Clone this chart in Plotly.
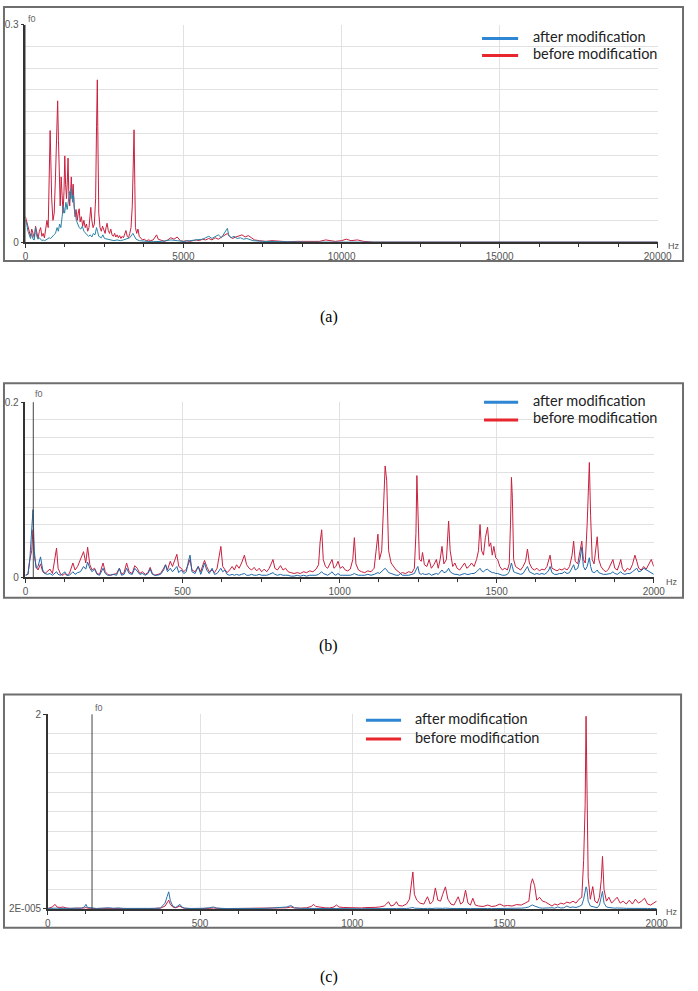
import plotly.graph_objects as go

# ---------------- DATA ----------------
# (a) 0-20000 Hz spectrum
A_BEFORE_HZ = [0, 40, 80, 120, 160, 200, 240, 280, 320, 360, 400, 440, 480, 520, 560, 600, 640, 680, 720, 760,
               781, 800, 830, 870, 910, 950, 990, 1019, 1045, 1070, 1100, 1130, 1160, 1190, 1220, 1245, 1270, 1300,
               1330, 1348, 1370, 1400, 1430, 1450, 1480, 1510, 1540, 1570, 1600, 1640, 1670, 1700, 1730, 1770, 1810,
               1850, 1890, 1930, 1970, 2010, 2040, 2068, 2100, 2140, 2180, 2220, 2250, 2274, 2295, 2320, 2360, 2400,
               2440, 2480, 2520, 2550, 2583, 2620, 2660, 2700, 2740, 2780, 2820, 2860, 2900, 2940, 2980, 3020, 3060,
               3100, 3140, 3180, 3220, 3260, 3300, 3340, 3380, 3410, 3436, 3460, 3480, 3520, 3560, 3600, 3650, 3700,
               3760, 3820, 3900, 3960, 4040, 4150, 4200, 4300, 4400, 4500, 4600, 4700, 4800, 4900, 5000, 5100, 5200,
               5300, 5400, 5500, 5600, 5700, 5800, 5900, 6000, 6100, 6200, 6300, 6389, 6450, 6550, 6650, 6750, 6850,
               6950, 7050, 7150, 7250, 7400, 7600, 7800, 8000, 8300, 8600, 9000, 9300, 9500, 9650, 9800, 10000, 10150,
               10300, 10500, 10700, 11000, 20000]
A_BEFORE_AMP = [0.035, 0.028, 0.02, 0.012, 0.008, 0.018, 0.01, 0.006, 0.022, 0.01, 0.005, 0.015, 0.02, 0.008, 0.012,
                0.006, 0.018, 0.03, 0.02, 0.11, 0.154, 0.12, 0.06, 0.03, 0.04, 0.09, 0.15, 0.195, 0.14, 0.08, 0.05,
                0.09, 0.06, 0.04, 0.07, 0.119, 0.08, 0.06, 0.09, 0.116, 0.07, 0.05, 0.07, 0.09, 0.06, 0.08, 0.05,
                0.035, 0.045, 0.03, 0.04, 0.046, 0.028, 0.035, 0.022, 0.03, 0.02, 0.025, 0.015, 0.02, 0.035, 0.048,
                0.03, 0.02, 0.025, 0.06, 0.16, 0.224, 0.13, 0.04, 0.02, 0.015, 0.022, 0.018, 0.012, 0.02, 0.026,
                0.016, 0.012, 0.018, 0.01, 0.008, 0.012, 0.007, 0.01, 0.006, 0.009, 0.005, 0.008, 0.006, 0.012,
                0.016, 0.008, 0.006, 0.012, 0.02, 0.05, 0.12, 0.155, 0.08, 0.02, 0.012, 0.018, 0.008, 0.005, 0.003,
                0.004, 0.002, 0.003, 0.002, 0.003, 0.01, 0.004, 0.002, 0.001, 0.003, 0.006, 0.004, 0.007, 0.002,
                0.001, 0.002, 0.001, 0.002, 0.003, 0.002, 0.004, 0.003, 0.005, 0.003, 0.006, 0.004, 0.007, 0.01,
                0.012, 0.008, 0.005, 0.007, 0.009, 0.01, 0.007, 0.009, 0.006, 0.003, 0.002, 0.001, 0.002, 0.001,
                0.0005, 0.001, 0.0005, 0.001, 0.003, 0.002, 0.001, 0.002, 0.004, 0.002, 0.003, 0.001, 0.0, 0.0]
A_AFTER_HZ = [0, 40, 80, 120, 160, 200, 240, 280, 320, 360, 400, 440, 480, 520, 560, 600, 650, 700, 750, 800, 850,
              900, 950, 1000, 1040, 1080, 1120, 1160, 1200, 1240, 1280, 1320, 1360, 1400, 1430, 1460, 1490, 1520,
              1550, 1580, 1610, 1650, 1700, 1750, 1800, 1850, 1900, 1950, 2000, 2050, 2100, 2150, 2200, 2250, 2280,
              2320, 2400, 2450, 2500, 2600, 2700, 2800, 2900, 3000, 3100, 3200, 3300, 3400, 3450, 3500, 3600, 3800,
              4000, 4300, 4600, 4800, 5000, 5200, 5400, 5600, 5700, 5800, 5900, 6000, 6100, 6200, 6300, 6389, 6430,
              6500, 6600, 6700, 6800, 6900, 7000, 7200, 7500, 8000, 9000, 20000]
A_AFTER_AMP = [0.03, 0.025, 0.015, 0.008, 0.005, 0.012, 0.004, 0.003, 0.02, 0.008, 0.004, 0.006, 0.003, 0.002,
               0.003, 0.002, 0.003, 0.004, 0.006, 0.005, 0.008, 0.01, 0.012, 0.02, 0.015, 0.025, 0.02, 0.035, 0.05,
               0.04, 0.055, 0.045, 0.06, 0.07, 0.06, 0.075, 0.055, 0.065, 0.045, 0.04, 0.03, 0.025, 0.02, 0.018,
               0.022, 0.015, 0.012, 0.01, 0.008, 0.01, 0.007, 0.012, 0.01, 0.02, 0.015, 0.008, 0.006, 0.01, 0.005,
               0.004, 0.003, 0.002, 0.003, 0.002, 0.003, 0.004, 0.006, 0.012, 0.008, 0.004, 0.002, 0.001, 0.0005,
               0.001, 0.003, 0.002, 0.001, 0.002, 0.003, 0.004, 0.006, 0.008, 0.005, 0.007, 0.01, 0.006, 0.012,
               0.019, 0.01, 0.006, 0.008, 0.005, 0.006, 0.004, 0.005, 0.002, 0.001, 0.0005, 0.0, 0.0]

# (b) 0-2000 Hz spectrum (shared frequency list)
B_HZ = [0, 8, 14, 20, 24, 28, 34, 40, 48, 55, 62, 70, 78, 86, 94, 99, 104, 112, 120, 125, 132, 140, 151, 158, 166,
        175, 185, 192, 198, 205, 212, 220, 228, 236, 247, 254, 262, 270, 280, 290, 299, 306, 314, 322, 330, 340,
        348, 356, 364, 372, 382, 390, 397, 404, 412, 420, 430, 440, 446, 452, 461, 468, 476, 482, 488, 496, 504,
        512, 520, 524, 530, 540, 550, 558, 565, 570, 577, 585, 594, 602, 610, 617, 622, 628, 635, 642, 650, 658,
        665, 672, 680, 688, 697, 704, 712, 720, 728, 736, 744, 752, 760, 768, 776, 783, 788, 794, 802, 812, 820,
        828, 836, 845, 855, 865, 875, 885, 895, 905, 915, 925, 933, 938, 943, 948, 955, 962, 970, 976, 982, 988,
        995, 1002, 1010, 1018, 1026, 1034, 1042, 1047, 1052, 1060, 1070, 1080, 1090, 1100, 1110, 1117, 1122, 1127,
        1134, 1140, 1145, 1150, 1156, 1164, 1172, 1180, 1188, 1193, 1200, 1210, 1220, 1230, 1238, 1243, 1246, 1249,
        1254, 1260, 1264, 1270, 1278, 1285, 1292, 1300, 1308, 1314, 1320, 1326, 1332, 1340, 1347, 1352, 1360, 1367,
        1374, 1382, 1390, 1398, 1405, 1412, 1420, 1428, 1436, 1442, 1447, 1452, 1458, 1464, 1471, 1476, 1481, 1486,
        1491, 1497, 1503, 1510, 1518, 1526, 1534, 1540, 1544, 1547, 1550, 1554, 1560, 1568, 1576, 1584, 1592, 1598,
        1604, 1612, 1620, 1628, 1636, 1644, 1652, 1660, 1666, 1670, 1676, 1684, 1692, 1700, 1708, 1716, 1724, 1732,
        1740, 1745, 1750, 1758, 1765, 1771, 1776, 1782, 1788, 1792, 1795, 1799, 1804, 1810, 1815, 1820, 1825, 1832,
        1840, 1848, 1856, 1863, 1870, 1876, 1884, 1890, 1895, 1900, 1908, 1916, 1924, 1932, 1940, 1946, 1952, 1960,
        1968, 1976, 1984, 1992, 2000]
B_BEFORE_AMP = [0.002, 0.003, 0.02, 0.03, 0.054, 0.025, 0.012, 0.008, 0.015, 0.006, 0.004, 0.006, 0.009, 0.004,
                0.02, 0.033, 0.01, 0.003, 0.002, 0.004, 0.002, 0.004, 0.016, 0.008, 0.012, 0.02, 0.029, 0.016, 0.034,
                0.014, 0.008, 0.01, 0.004, 0.003, 0.016, 0.006, 0.003, 0.002, 0.003, 0.004, 0.01, 0.003, 0.005, 0.016,
                0.006, 0.004, 0.013, 0.01, 0.004, 0.006, 0.003, 0.005, 0.011, 0.004, 0.002, 0.003, 0.004, 0.01, 0.014,
                0.008, 0.018, 0.012, 0.02, 0.026, 0.012, 0.01, 0.006, 0.009, 0.016, 0.02, 0.008, 0.006, 0.012, 0.006,
                0.014, 0.019, 0.012, 0.006, 0.008, 0.005, 0.01, 0.028, 0.035, 0.012, 0.008, 0.005, 0.008, 0.012,
                0.008, 0.014, 0.01, 0.016, 0.025, 0.014, 0.01, 0.008, 0.011, 0.007, 0.01, 0.006, 0.009, 0.006, 0.01,
                0.016, 0.02, 0.01, 0.008, 0.013, 0.008, 0.01, 0.006, 0.005, 0.004, 0.005, 0.004, 0.006, 0.005, 0.007,
                0.006, 0.009, 0.014, 0.04, 0.054, 0.02, 0.012, 0.01, 0.016, 0.02, 0.01, 0.012, 0.018, 0.01, 0.012,
                0.008, 0.007, 0.009, 0.02, 0.045, 0.015, 0.008, 0.006, 0.005, 0.007, 0.006, 0.01, 0.03, 0.049, 0.02,
                0.03, 0.082, 0.127, 0.11, 0.03, 0.016, 0.012, 0.008, 0.006, 0.004, 0.005, 0.004, 0.006, 0.005, 0.01,
                0.05, 0.116, 0.075, 0.02, 0.018, 0.028, 0.014, 0.012, 0.02, 0.01, 0.014, 0.02, 0.01, 0.02, 0.035,
                0.015, 0.02, 0.064, 0.03, 0.012, 0.016, 0.01, 0.008, 0.012, 0.016, 0.01, 0.012, 0.016, 0.012, 0.02,
                0.03, 0.06, 0.03, 0.025, 0.045, 0.057, 0.035, 0.039, 0.025, 0.035, 0.022, 0.02, 0.012, 0.008, 0.01,
                0.008, 0.015, 0.06, 0.114, 0.09, 0.02, 0.012, 0.01, 0.008, 0.012, 0.018, 0.032, 0.016, 0.01, 0.008,
                0.01, 0.007, 0.009, 0.008, 0.012, 0.02, 0.025, 0.01, 0.008, 0.007, 0.009, 0.008, 0.01, 0.008, 0.012,
                0.025, 0.041, 0.018, 0.015, 0.03, 0.041, 0.02, 0.016, 0.06, 0.103, 0.131, 0.07, 0.02, 0.015, 0.03,
                0.046, 0.02, 0.012, 0.008, 0.006, 0.009, 0.015, 0.02, 0.01, 0.008, 0.014, 0.02, 0.01, 0.006, 0.01,
                0.008, 0.014, 0.025, 0.018, 0.01, 0.008, 0.012, 0.009, 0.015, 0.02, 0.012]
B_AFTER_AMP = [0.002, 0.003, 0.02, 0.05, 0.077, 0.03, 0.01, 0.012, 0.023, 0.008, 0.004, 0.003, 0.004, 0.002, 0.004,
               0.006, 0.003, 0.002, 0.004, 0.006, 0.002, 0.002, 0.006, 0.003, 0.005, 0.006, 0.012, 0.009, 0.017,
               0.01, 0.006, 0.009, 0.003, 0.002, 0.01, 0.004, 0.002, 0.002, 0.003, 0.002, 0.01, 0.002, 0.003, 0.01,
               0.004, 0.003, 0.01, 0.006, 0.003, 0.004, 0.002, 0.004, 0.009, 0.003, 0.002, 0.002, 0.003, 0.008,
               0.014, 0.006, 0.01, 0.006, 0.009, 0.012, 0.005, 0.008, 0.004, 0.006, 0.02, 0.025, 0.006, 0.004, 0.012,
               0.003, 0.01, 0.016, 0.008, 0.004, 0.01, 0.003, 0.004, 0.008, 0.01, 0.006, 0.008, 0.003, 0.002, 0.003,
               0.002, 0.003, 0.002, 0.003, 0.004, 0.002, 0.002, 0.003, 0.002, 0.002, 0.003, 0.002, 0.002, 0.002,
               0.003, 0.004, 0.005, 0.003, 0.002, 0.003, 0.002, 0.002, 0.002, 0.001, 0.001, 0.002, 0.001, 0.002,
               0.001, 0.002, 0.002, 0.002, 0.003, 0.005, 0.006, 0.004, 0.003, 0.002, 0.004, 0.006, 0.003, 0.002,
               0.004, 0.002, 0.002, 0.002, 0.002, 0.002, 0.003, 0.004, 0.003, 0.002, 0.002, 0.002, 0.003, 0.002,
               0.003, 0.004, 0.005, 0.004, 0.006, 0.008, 0.01, 0.008, 0.005, 0.004, 0.003, 0.002, 0.002, 0.004,
               0.002, 0.002, 0.002, 0.003, 0.004, 0.008, 0.011, 0.012, 0.004, 0.003, 0.004, 0.003, 0.003, 0.004,
               0.002, 0.003, 0.004, 0.003, 0.005, 0.008, 0.005, 0.006, 0.01, 0.006, 0.004, 0.003, 0.003, 0.002,
               0.003, 0.004, 0.003, 0.003, 0.004, 0.004, 0.006, 0.008, 0.01, 0.007, 0.006, 0.008, 0.009, 0.007,
               0.006, 0.005, 0.005, 0.004, 0.004, 0.003, 0.002, 0.002, 0.003, 0.006, 0.012, 0.016, 0.012, 0.006,
               0.005, 0.004, 0.003, 0.004, 0.008, 0.012, 0.006, 0.004, 0.003, 0.004, 0.003, 0.004, 0.003, 0.005,
               0.008, 0.012, 0.005, 0.003, 0.003, 0.004, 0.004, 0.006, 0.004, 0.005, 0.01, 0.014, 0.008, 0.01, 0.02,
               0.034, 0.012, 0.008, 0.012, 0.018, 0.022, 0.012, 0.006, 0.005, 0.006, 0.008, 0.005, 0.004, 0.003,
               0.003, 0.004, 0.004, 0.006, 0.004, 0.003, 0.005, 0.006, 0.004, 0.003, 0.004, 0.004, 0.006, 0.008,
               0.01, 0.006, 0.007, 0.01, 0.008, 0.006, 0.005, 0.003]

# (c) 0-2000 Hz spectrum (shared frequency list)
C_HZ = [0, 15, 23, 30, 40, 50, 60, 75, 90, 100, 110, 120, 125, 130, 140, 160, 180, 200, 215, 230, 250, 270, 290,
        310, 330, 350, 370, 385, 392, 397, 402, 410, 420, 428, 434, 440, 450, 470, 490, 510, 530, 544, 555, 570,
        590, 610, 630, 650, 670, 690, 710, 730, 750, 770, 785, 798, 810, 830, 850, 865, 873, 880, 895, 910, 925,
        940, 948, 956, 970, 985, 1000, 1015, 1030, 1045, 1060, 1075, 1090, 1105, 1112, 1119, 1127, 1137, 1145,
        1152, 1165, 1178, 1188, 1194, 1199, 1204, 1212, 1222, 1235, 1247, 1256, 1265, 1273, 1281, 1290, 1297,
        1306, 1314, 1324, 1334, 1341, 1348, 1356, 1364, 1372, 1380, 1388, 1396, 1404, 1415, 1430, 1445, 1458,
        1470, 1485, 1498, 1510, 1525, 1540, 1555, 1568, 1580, 1587, 1592, 1599, 1606, 1615, 1625, 1635, 1645,
        1656, 1665, 1675, 1685, 1695, 1705, 1715, 1725, 1735, 1745, 1754, 1760, 1765, 1768, 1771, 1775, 1782,
        1790, 1797, 1805, 1812, 1818, 1822, 1827, 1835, 1843, 1852, 1862, 1870, 1880, 1890, 1900, 1910, 1920,
        1930, 1940, 1950, 1960, 1970, 1980, 1990, 2000]
C_BEFORE_AMP = [0.005, 0.02, 0.047, 0.02, 0.015, 0.02, 0.01, 0.005, 0.008, 0.006, 0.008, 0.01, 0.015, 0.008, 0.005,
                0.004, 0.006, 0.005, 0.004, 0.005, 0.004, 0.003, 0.004, 0.003, 0.004, 0.005, 0.008, 0.03, 0.07,
                0.09, 0.05, 0.02, 0.012, 0.02, 0.03, 0.015, 0.006, 0.004, 0.003, 0.004, 0.006, 0.01, 0.005, 0.004,
                0.003, 0.004, 0.003, 0.004, 0.003, 0.004, 0.005, 0.006, 0.008, 0.01, 0.012, 0.02, 0.01, 0.008, 0.012,
                0.025, 0.047, 0.025, 0.015, 0.012, 0.01, 0.02, 0.04, 0.02, 0.015, 0.012, 0.01, 0.012, 0.01, 0.014,
                0.012, 0.016, 0.02, 0.03, 0.05, 0.074, 0.03, 0.04, 0.074, 0.035, 0.03, 0.05, 0.1, 0.28, 0.38, 0.15,
                0.09, 0.06, 0.05, 0.125, 0.05, 0.08, 0.216, 0.09, 0.08, 0.15, 0.227, 0.1, 0.05, 0.04, 0.08, 0.125,
                0.05, 0.07, 0.193, 0.06, 0.04, 0.11, 0.04, 0.03, 0.025, 0.04, 0.025, 0.03, 0.05, 0.03, 0.035, 0.03,
                0.045, 0.04, 0.06, 0.08, 0.26, 0.31, 0.24, 0.09, 0.12, 0.08, 0.07, 0.05, 0.03, 0.05, 0.04, 0.06,
                0.05, 0.07, 0.06, 0.08, 0.06, 0.1, 0.12, 0.5, 1.07, 1.98, 1.28, 0.32, 0.1, 0.23, 0.08, 0.06, 0.12,
                0.3, 0.54, 0.2, 0.08, 0.12, 0.06, 0.09, 0.12, 0.06, 0.08, 0.05, 0.09, 0.05, 0.1, 0.06, 0.08, 0.11,
                0.05, 0.04, 0.06, 0.08]
C_AFTER_AMP = [0.005, 0.01, 0.01, 0.008, 0.005, 0.006, 0.004, 0.005, 0.012, 0.01, 0.008, 0.02, 0.047, 0.015, 0.01,
               0.005, 0.008, 0.012, 0.006, 0.01, 0.005, 0.004, 0.005, 0.006, 0.008, 0.006, 0.01, 0.06, 0.13, 0.176,
               0.09, 0.03, 0.015, 0.03, 0.047, 0.02, 0.008, 0.005, 0.004, 0.006, 0.012, 0.02, 0.008, 0.005, 0.004,
               0.005, 0.004, 0.005, 0.004, 0.006, 0.005, 0.008, 0.012, 0.015, 0.02, 0.035, 0.012, 0.006, 0.005,
               0.006, 0.008, 0.005, 0.004, 0.004, 0.003, 0.004, 0.005, 0.004, 0.003, 0.003, 0.003, 0.003, 0.002,
               0.003, 0.002, 0.003, 0.003, 0.004, 0.004, 0.005, 0.004, 0.004, 0.005, 0.004, 0.004, 0.005, 0.008,
               0.01, 0.015, 0.008, 0.006, 0.005, 0.004, 0.006, 0.004, 0.005, 0.008, 0.005, 0.005, 0.006, 0.008,
               0.005, 0.004, 0.004, 0.005, 0.006, 0.004, 0.005, 0.008, 0.004, 0.004, 0.005, 0.004, 0.003, 0.003,
               0.004, 0.003, 0.003, 0.004, 0.003, 0.004, 0.004, 0.006, 0.008, 0.012, 0.02, 0.035, 0.04, 0.03, 0.02,
               0.012, 0.008, 0.01, 0.006, 0.012, 0.008, 0.02, 0.01, 0.012, 0.03, 0.015, 0.02, 0.015, 0.025, 0.04,
               0.1, 0.18, 0.227, 0.2, 0.08, 0.03, 0.025, 0.015, 0.012, 0.04, 0.12, 0.18, 0.06, 0.02, 0.015, 0.01,
               0.008, 0.01, 0.006, 0.008, 0.006, 0.007, 0.005, 0.006, 0.006, 0.007, 0.008, 0.005, 0.004, 0.005,
               0.004]

F0_HZ = [0, 25, 145]
X_RANGES = [[0, 20000], [0, 2000], [0, 2000]]
Y_RANGES = [[0, 0.3], [0, 0.2], [2e-5, 2]]
Y_TICKTEXT = [["0", "0.3"], ["0", "0.2"], ["2E-005", "2"]]
X_DTICK = [5000, 500, 500]
X_MINOR = [1250, 125, 125]
Y_MINOR = [0.03, 0.02, 0.2]
LEGEND_NAMES = ["after modification", "before modification"]
CAPTIONS = ["(a)", "(b)", "(c)"]

# ---------------- LAYOUT GEOMETRY (pixels) ----------------
W, H = 698, 991
def fx(x):
    return x / W
def fy(y):
    return 1 - y / H

PANELS = [
    dict(x0=23, x1=671, yt=19, yb=239, box=(1, 1, 697, 258), hz=(688, 243), f0=(24, 13),
         leg=(491, 528, 541, 33, 50), cap=315, blue="#2a84a8"),
    dict(x0=23, x1=667, yt=401, yb=578, box=(1, 382, 697, 599), hz=(686, 583), f0=(31, 393),
         leg=(493, 528, 541, 401, 419), cap=648, blue="#1f68a8"),
    dict(x0=46, x1=670, yt=717, yb=914, box=(1, 697, 695, 933), hz=(686, 917), f0=(92, 711),
         leg=(372, 408, 420, 723, 742), cap=983, blue="#2a72aa"),
]
RED = "#c8203f"
GRID = "#e1e1e1"
AXC = "#333333"
SANS = '"Liberation Sans", Arial, sans-serif'
SERIF = '"Liberation Serif", "Times New Roman", serif'
LEGFONT = 'Lato, "Open Sans", sans-serif'
TICKFONT = dict(family=SANS, size=10, color="#555555")

series = [
    (A_BEFORE_HZ, A_BEFORE_AMP, A_AFTER_HZ, A_AFTER_AMP),
    (B_HZ, B_BEFORE_AMP, B_HZ, B_AFTER_AMP),
    (C_HZ, C_BEFORE_AMP, C_HZ, C_AFTER_AMP),
]

fig = go.Figure()
shapes = []
annotations = []
layout_axes = {}

for i, p in enumerate(PANELS):
    n = "" if i == 0 else str(i + 1)
    xa, ya = "x" + n, "y" + n
    bx, by, ax, ay = series[i]
    fig.add_trace(go.Scatter(x=bx, y=by, mode="lines", line=dict(color=RED, width=1),
                             xaxis=xa, yaxis=ya, showlegend=False, name=LEGEND_NAMES[1]))
    fig.add_trace(go.Scatter(x=ax, y=ay, mode="lines", line=dict(color=p["blue"], width=1),
                             xaxis=xa, yaxis=ya, showlegend=False, name=LEGEND_NAMES[0]))

    layout_axes["xaxis" + n] = dict(
        domain=[fx(p["x0"]), fx(p["x1"])], anchor=ya, range=X_RANGES[i],
        tick0=0, dtick=X_DTICK[i], tickformat="d", showgrid=True, gridcolor=GRID, gridwidth=1,
        showline=True, linecolor=AXC, linewidth=1.5, zeroline=False,
        ticks="outside", ticklen=4, tickcolor=AXC, tickfont=TICKFONT,
        minor=dict(dtick=X_MINOR[i], tick0=0, ticks="outside", ticklen=3, tickcolor=AXC, showgrid=False),
        fixedrange=True,
    )
    layout_axes["yaxis" + n] = dict(
        domain=[fy(p["yb"]), fy(p["yt"])], anchor=xa, range=Y_RANGES[i],
        tickmode="array", tickvals=Y_RANGES[i], ticktext=Y_TICKTEXT[i],
        showgrid=True, gridcolor=GRID, showline=True, linecolor=AXC, linewidth=1.5,
        zeroline=False, ticks="outside", ticklen=3, tickcolor=AXC, tickfont=TICKFONT,
        minor=dict(dtick=Y_MINOR[i], tick0=0, showgrid=True, gridcolor=GRID, ticks=""),
        fixedrange=True,
    )

    # panel border
    b = p["box"]
    shapes.append(dict(type="rect", xref="paper", yref="paper", x0=fx(b[0]), x1=fx(b[2]),
                       y0=fy(b[3]), y1=fy(b[1]), line=dict(color="#6e6e6e", width=2), layer="above"))
    # f0 cursor
    shapes.append(dict(type="line", xref=xa, yref=ya + " domain", x0=F0_HZ[i], x1=F0_HZ[i], y0=0, y1=1,
                       line=dict(color="#444444", width=1), layer="above"))
    annotations.append(dict(text="f0", xref="paper", yref="paper", x=fx(p["f0"][0]), y=fy(p["f0"][1]),
                            xanchor="left", yanchor="middle", showarrow=False,
                            font=dict(family=SANS, size=9, color="#666666")))
    annotations.append(dict(text="Hz", xref="paper", yref="paper", x=fx(p["hz"][0]), y=fy(p["hz"][1]),
                            xanchor="center", yanchor="middle", showarrow=False,
                            font=dict(family=SANS, size=9, color="#555555")))
    # legend
    lx0, lx1, tx, ly1, ly2 = p["leg"]
    for ly, col, name in [(ly1, "#2f86d2", LEGEND_NAMES[0]), (ly2, "#e8262e", LEGEND_NAMES[1])]:
        shapes.append(dict(type="line", xref="paper", yref="paper", x0=fx(lx0), x1=fx(lx1),
                           y0=fy(ly), y1=fy(ly), line=dict(color=col, width=3), layer="above"))
        annotations.append(dict(text=name, xref="paper", yref="paper", x=fx(tx), y=fy(ly - 2),
                                xanchor="left", yanchor="middle", showarrow=False,
                                font=dict(family=LEGFONT, size=14.5, color="#222222")))
    # caption
    annotations.append(dict(text=CAPTIONS[i], xref="paper", yref="paper", x=fx(334), y=fy(p["cap"]),
                            xanchor="center", yanchor="middle", showarrow=False,
                            font=dict(family=SERIF, size=16, color="#000000")))

fig.update_layout(
    width=W, height=H, margin=dict(l=0, r=0, t=0, b=0),
    paper_bgcolor="white", plot_bgcolor="white",
    shapes=shapes, annotations=annotations, showlegend=False,
    **layout_axes,
)

fig.write_html("out.html", config={"displayModeBar": False})
